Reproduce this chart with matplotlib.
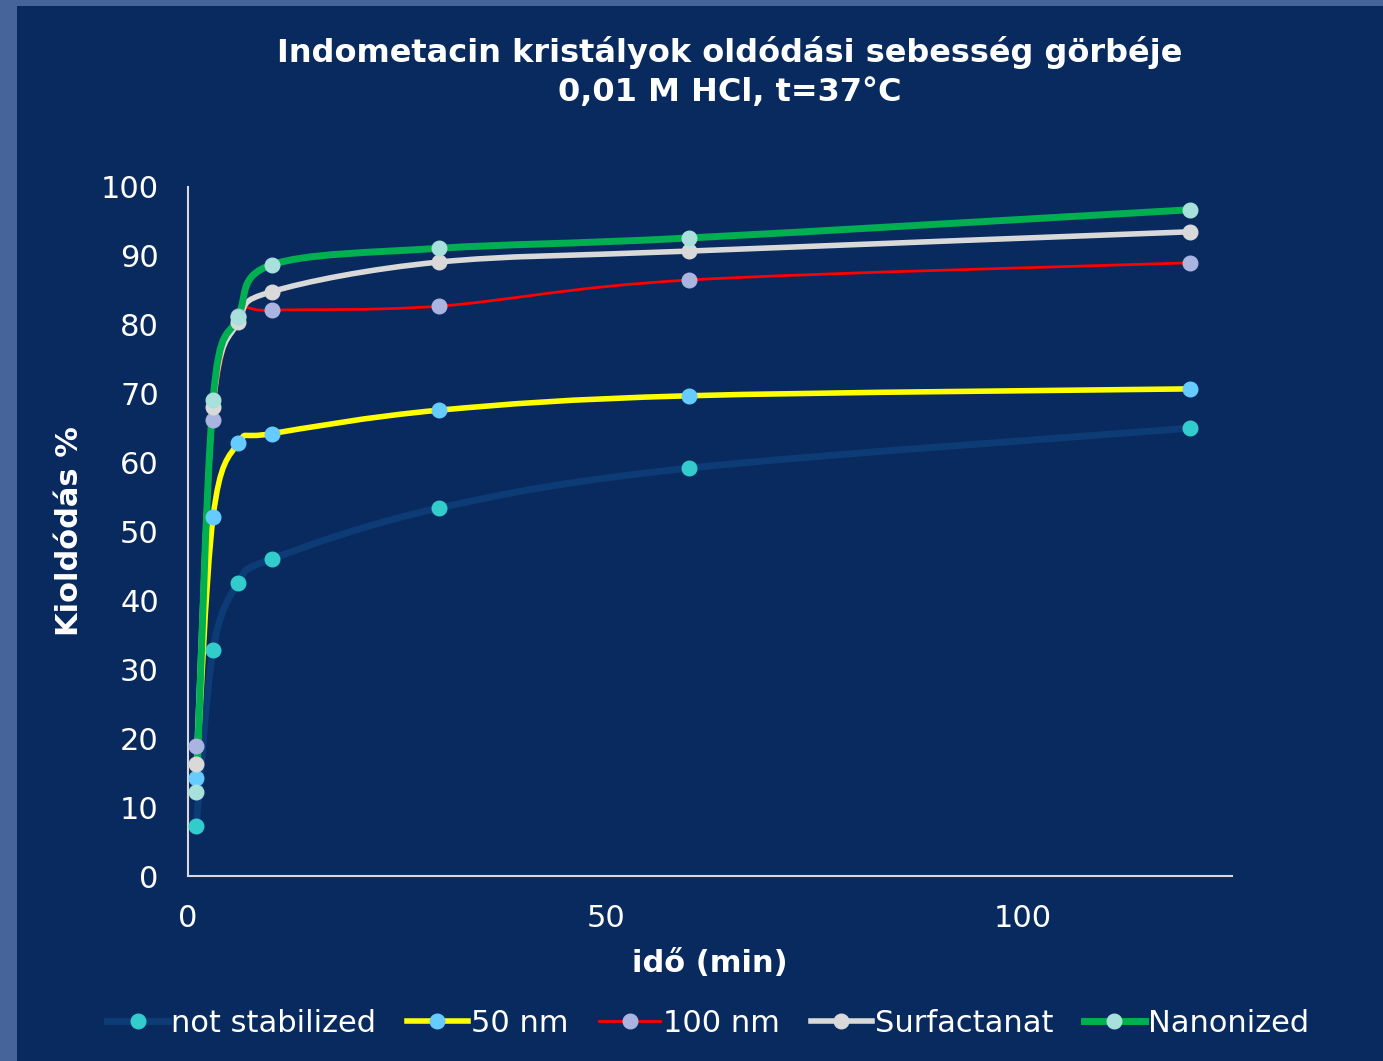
import numpy as np
import matplotlib
matplotlib.use("Agg")
import matplotlib.pyplot as plt
from matplotlib.path import Path
from matplotlib.patches import PathPatch, Rectangle
from matplotlib.lines import Line2D

plt.rcParams['font.family'] = ['DejaVu Sans']

# time points (min)
ido = [1, 3, 6, 10, 30, 60, 120]

not_stabilized = [7.3, 32.8, 42.5, 46.0, 53.4, 59.2, 65.0]
nm50 = [14.2, 52.1, 62.8, 64.2, 67.6, 69.7, 70.7]
nm100 = [18.9, 66.2, 81.3, 82.1, 82.7, 86.5, 89.0]
surfactanat = [16.3, 68.1, 80.4, 84.8, 89.1, 90.7, 93.5]
nanonized = [12.2, 69.1, 81.1, 88.7, 91.1, 92.6, 96.7]

names = ['not stabilized', '50 nm', '100 nm', 'Surfactanat', 'Nanonized']
series = [not_stabilized, nm50, nm100, surfactanat, nanonized]
line_colors = ['#0d3b75', '#ffff00', '#ff0000', '#d9d9d9', '#00b050']
marker_colors = ['#33cccc', '#66ccff', '#aab4e0', '#d9d9d9', '#a8e0dc']
widths = [5, 4, 2, 4, 5]

bg = '#082a5e'

fig = plt.figure(figsize=(13.83, 10.61), dpi=100)
fig.patch.set_facecolor('#46649a')
fig.patches.append(Rectangle((17 / 1383, 0), 1, 1 - 6 / 1061, transform=fig.transFigure,
                             facecolor=bg, edgecolor='none', zorder=-10))

ax = fig.add_axes([188 / 1383, 1 - 876 / 1061, (1232 - 188) / 1383, (876 - 187) / 1061])
ax.set_facecolor(bg)
ax.set_xlim(0, 125)
ax.set_ylim(0, 100)

# scale so the smoothing works in screen-like units
sx, sy = 8.35, 6.89


def smooth_path(x, y):
    # Excel-style smoothed line: cubic Bezier through the points
    p = np.column_stack([np.array(x) * sx, np.array(y) * sy])
    n = len(p)
    verts = [p[0]]
    codes = [Path.MOVETO]
    for i in range(n - 1):
        p0 = p[i - 1] if i > 0 else p[i]
        p3 = p[i + 2] if i + 2 < n else p[i + 1]
        c1 = p[i] + (p[i + 1] - p0) / 6
        c2 = p[i + 1] - (p3 - p[i]) / 6
        verts += [c1, c2, p[i + 1]]
        codes += [Path.CURVE4] * 3
    verts = np.array(verts) / [sx, sy]
    return Path(verts, codes)


handles = []
for i, (name, vals) in enumerate(zip(names, series)):
    patch = PathPatch(smooth_path(ido, vals), facecolor='none', edgecolor=line_colors[i],
                      lw=widths[i], capstyle='round', zorder=2 + i)
    ax.add_patch(patch)
    ax.plot(ido, vals, 'o', color=marker_colors[i], markersize=10.5, zorder=10 + i)
    handles.append(Line2D([], [], color=line_colors[i], lw=widths[i], marker='o',
                          markersize=10.5, markerfacecolor=marker_colors[i],
                          markeredgecolor=marker_colors[i], label=name))

for s in ['top', 'right']:
    ax.spines[s].set_visible(False)
for s in ['left', 'bottom']:
    ax.spines[s].set_color('#d9d9d9')
    ax.spines[s].set_linewidth(1.5)

ax.set_xticks([0, 50, 100])
ax.set_yticks(range(0, 101, 10))
ax.tick_params(colors='white', labelsize=22, length=0)
ax.tick_params(axis='y', pad=21)
ax.tick_params(axis='x', pad=20)

ax.set_xlabel('idő (min)', color='white', fontsize=22, fontweight='bold', labelpad=12)
ax.set_ylabel('Kioldódás %', color='white', fontsize=22, fontweight='bold', labelpad=12)

fig.text(0.5275, 1 - 72 / 1061, 'Indometacin kristályok oldódási sebesség görbéje\n0,01 M HCl, t=37°C',
         color='white', fontsize=23, fontweight='bold', ha='center', va='center',
         linespacing=1.3)

fig.legend(handles=handles, loc='center', bbox_to_anchor=(0.512, 1 - 1023 / 1061), ncol=5,
           frameon=False, fontsize=22, labelcolor='white', handlelength=2.0,
           handletextpad=0.1, columnspacing=1.0)

fig.savefig('out.png', dpi=100, facecolor=fig.get_facecolor())
